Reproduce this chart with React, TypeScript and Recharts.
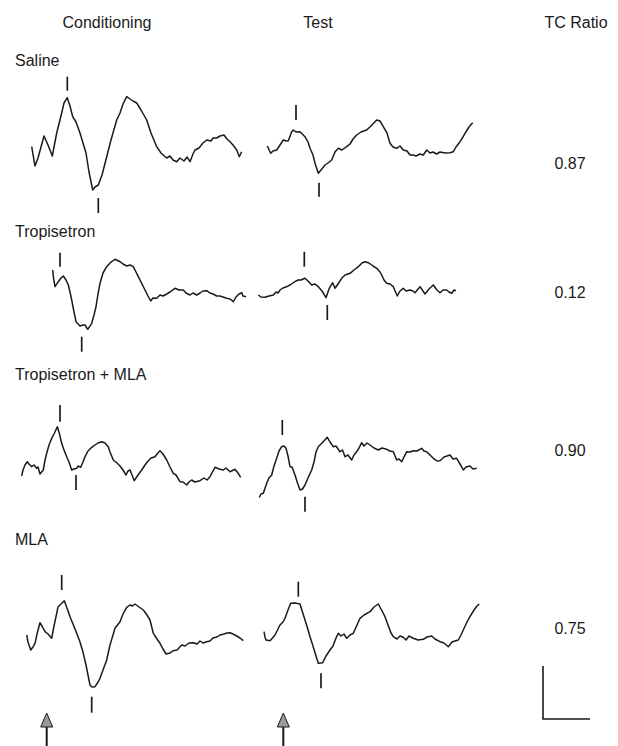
// Evoked potential traces: conditioning / test responses per drug condition
import React from 'react';
import { LineChart, Line, XAxis, YAxis, ReferenceLine, ReferenceDot } from 'recharts';

type Pt = [number, number]; // [time (ms from trace origin), amplitude (µV, up = positive)]
type Mark = [number, number, number]; // [time, from, to]

// ---- Saline ----
const SALINE_COND: Pt[] = [
  [16.7, -1.7], [20, -21], [23, -13], [29, 9], [33, 0], [37.3, -11], [41.7, 12], [46.7, 32], [49, 42],
  [52.3, 47.3], [55, 39], [57.7, 28.3], [61, 23], [65, 12], [71, -8], [74, -27], [77.7, -45], [80, -42],
  [83.3, -40], [87, -30], [91.7, -11.7], [96, 5], [101.7, 25], [105, 32], [108, 41], [111.7, 48.3],
  [115, 46], [118, 44], [121.7, 42], [126, 35], [131.7, 25], [136, 12], [141.7, -1.7], [146, -8],
  [151.7, -13], [155, -11], [158, -15], [161.7, -16.7], [165, -13], [169, -16], [172, -12], [175, -16.7],
  [178, -9], [180, -5], [184, -3], [188, 2], [191.7, 5], [196, 4], [198, 7], [201.7, 7], [205, 9],
  [209, 10], [212, 6], [215, 3.3], [218, 0], [221.7, -5], [224.3, -11.7], [226.7, -6.7],
];
const SALINE_TEST: Pt[] = [
  [17.3, -1], [20.7, -8.3], [23, -6], [26.7, -5], [30, 0], [33.3, 5], [36, 4], [38.3, 4.3], [41.7, 13.3],
  [43.3, 15], [46, 13], [50, 13.3], [55, 8.3], [58, 3], [60, -3.3], [63, -10], [65, -18.3], [68.3, -28.3],
  [71, -25], [75, -20], [78, -18], [81.7, -15], [85, -7], [88.3, -3.3], [92, -5], [96.7, -1.7], [100, 1],
  [103, 6], [106.7, 10], [111, 13], [116.7, 15], [121, 19], [126.7, 25], [130, 24], [133.3, 18.3],
  [137, 12], [140, 1.7], [143, -2], [146.7, -3.3], [150, -1], [153.3, -5], [157, -6], [160, -10],
  [163.3, -10], [166, -11], [170, -9], [173.3, -10], [176.7, -5], [180, -8], [183, -7], [186.7, -9],
  [190, -7], [195, -8], [200, -7.7], [203.3, -6.7], [206, -2], [210, 3.3], [213, 8], [215, 11.7],
  [219, 18], [222.7, 22.3],
];

// ---- Tropisetron ----
const TROP_COND: Pt[] = [
  [37.7, 30], [38.5, 22], [40, 13.3], [43.3, 18.3], [46, 22], [48.3, 24], [51, 20], [53.3, 15], [55, 8],
  [56.7, 0], [59, -12], [61, -21.7], [65, -26], [68, -25], [70, -25], [72.7, -29.3], [76.7, -23.3],
  [79, -15], [81, -6.7], [83, 6], [85, 16.7], [88, 27], [91.7, 33.3], [96, 38], [100, 40.7], [105, 38.3],
  [108, 36], [111.7, 34], [115, 35], [118.3, 33.3], [121, 28], [123.3, 23.3], [127, 16], [130, 10],
  [133, 4], [135.7, -1], [138, 2], [141.7, 1.7], [145, 5], [148, 4], [151.7, 6], [155, 8], [160, 11.7],
  [164, 10], [168.3, 10], [171, 7], [175, 5], [178, 7], [181.7, 5], [185, 7], [188, 9], [191.7, 9.3],
  [195, 7], [198, 6], [201.7, 4], [205, 4], [208, 3], [211.7, 1.7], [215, 1], [218.3, -1.7], [221, 3],
  [224, 6], [226.7, 7.3], [228, 4], [231, 3.3],
];
const TROP_TEST: Pt[] = [
  [8.3, 5], [11, 3], [15, 2.7], [19, 4], [23.3, 5], [26, 8], [28, 7], [30, 10], [33, 12], [36.7, 13.3],
  [40, 15], [43, 17], [45, 18.3], [48, 20], [51, 20], [55, 21.7], [58, 19], [61.7, 15], [65, 16],
  [68.3, 13.3], [72, 9], [76, 2.3], [79.3, 11.7], [82.7, 17.3], [85, 11.7], [88, 16], [91.7, 21.7],
  [95, 25], [100, 26.7], [104, 30], [108.3, 33.3], [112, 37], [115, 38.3], [119, 37], [123, 34],
  [126.7, 31.7], [130, 28], [131.7, 25], [134, 20], [136.7, 16.7], [140, 16], [143.3, 13.3], [147.3, 4],
  [150, 9], [153.3, 11.7], [156, 9], [160, 10], [163, 9], [165, 7.3], [170, 13.3], [175, 6], [179, 11],
  [183.3, 15], [187, 10], [190, 7.3], [193, 10], [196.7, 10], [199, 8], [201.7, 6.7], [204, 10], [206, 9.3],
];

// ---- Tropisetron + MLA ----
const TROP_MLA_COND: Pt[] = [
  [6.7, -16], [8, -10], [10, -5], [12.3, -1.7], [14, -4], [16.7, -6.7], [19, -5], [21.7, -8.3], [23, -7],
  [25, -14], [28.3, -10], [30, 0], [31.7, 6.7], [34, 15], [36.7, 21.7], [39, 26], [42.3, 33.3], [44.5, 26],
  [46.7, 16.7], [49, 10], [51.7, 3.3], [54, -2], [56.7, -10], [59, -9], [61.7, -8.3], [63, -6], [65.7, -7.3],
  [68, -2], [70, 3.3], [73, 9], [76.7, 12.7], [80, 15], [83, 17], [86.7, 18.3], [90, 17], [93.3, 13.3],
  [95, 8], [98.3, 0], [102, -3], [105, -6], [108, -10], [111, -15], [113, -11], [115, -10], [117, -15],
  [119.3, -20.7], [123, -15], [126.7, -10], [130, -5], [133.3, -0.7], [136, 2], [140, 3.3], [142, 6],
  [145, 9.3], [148, 6], [151.7, 0], [155, -7], [158.3, -13.3], [161, -15], [165, -21.7], [168, -22],
  [171.7, -25], [174, -22], [176.7, -20], [180, -22], [185, -20.7], [189, -18], [192, -20], [195, -16.7],
  [198, -11], [200, -7.3], [204, -9], [208.3, -10], [211, -8], [215, -11.7], [220, -9.3], [223, -13],
  [225.7, -17.3],
];
const TROP_MLA_TEST: Pt[] = [
  [9.3, -37.3], [11, -34], [13.3, -33.3], [16.7, -23.3], [19, -18], [21.7, -15], [24, -6], [26.7, 1.7],
  [29, 9], [31.7, 13.3], [34, 14], [36, 11.7], [38, 4], [40, -6.7], [42, -7], [45, -15], [47.5, -23],
  [50, -30], [52.5, -29], [55, -25], [58, -18], [61.7, -10], [64, -2], [66, 8], [68.3, 13.3], [72, 17],
  [77.3, 22.7], [80, 18], [83.3, 13.3], [86, 14], [90, 8.3], [92.5, 10], [95, 3.3], [98, 5], [101.7, 0],
  [104, 5], [106.7, 8.3], [109, 12], [111.7, 17.3], [114, 14], [117, 17], [120, 15], [124, 12],
  [128.3, 10], [132, 12], [136.7, 10.7], [140, 9], [143.3, 8.3], [146.7, 0], [149, 1], [151.7, -1.7],
  [154, 3], [156.7, 8.3], [160, 8], [163.3, 9.3], [167, 9], [171.7, 11.7], [174, 9], [176.7, 8.3],
  [180, 5], [183.3, 1.7], [187, -1], [190, -0.7], [194, 3], [197, 4], [200, 5], [203, 1], [206.7, 1.7],
  [210, -4], [213.3, -10], [216, -7], [220, -6], [223, -9], [226.7, -8.3],
];

// ---- MLA ----
const MLA_COND: Pt[] = [
  [11.7, 10], [13, 3], [15.7, -5], [18, -2], [20, 1.7], [22.5, 13], [25, 22.3], [27.5, 18], [30, 13.3],
  [33, 11], [36.7, 6.7], [39, 19], [41.7, 31.7], [43, 38], [45, 40], [47, 42], [49.3, 44.3], [52, 37],
  [55, 28.3], [58, 21], [61.7, 11.7], [65, 3], [68.3, -8.3], [71, -20], [75, -40], [77, -42], [80, -41.7],
  [82.5, -38], [85, -33.3], [88, -25], [91.7, -15], [95, 0], [98, 10], [100, 16.7], [105, 23.3], [108, 31],
  [111.7, 37.7], [115, 40], [117.5, 39], [120, 41], [124, 38], [128.3, 35], [132, 30], [135, 25],
  [138.3, 11.7], [142, 6], [145, 1.7], [148, -4], [151, -9], [155, -8], [158.3, -5.7], [162, -5],
  [166.7, 0], [170, -1], [174, 2], [178.3, 2.3], [182, 1], [185, 4], [188, 2], [191.7, 3.3], [195, 4],
  [198, 7], [202, 8], [205, 10], [209, 11], [212, 12], [215, 12.3], [218, 11], [221.7, 9], [225, 7],
  [228.3, 4.3],
];
const MLA_TEST: Pt[] = [
  [14, 13.3], [15, 8], [16, 5], [20, 4.3], [22.5, 7], [25, 10], [28, 16], [30, 20], [33, 23], [35, 26.7],
  [38, 35], [40.7, 41.7], [45, 42], [50, 41], [52.5, 33], [55, 25], [57.5, 17], [60, 8.3], [63, -1],
  [66, -11], [68.3, -18.3], [72.7, -17.7], [76, -11], [80, -5], [83, -1], [86, 7], [88.3, 11.7], [91, 9],
  [94, 11], [96.7, 6.7], [100, 10], [103.3, 11.7], [107, 20], [110, 26.7], [114, 30], [120, 33.3],
  [124, 38], [128.3, 41], [131, 36], [135, 28.3], [138, 20], [141, 12], [143.3, 8.3], [147, 6], [150, 9],
  [153.3, 7.7], [156, 5], [159, 9], [163.3, 6.7], [168, 5], [173.3, 5.7], [177, 8], [181.7, 9], [185, 6],
  [190, 3.3], [194, 2], [198.3, -1.7], [202, 3], [205, 4], [208.3, 5], [211, 10], [213.3, 15], [217, 23],
  [220, 28.3], [224, 35], [227, 39], [229.3, 41],
];

// peak / trough latency markers [time, from, to]
const SALINE_COND_MARKS: Mark[] = [[52.3, 54.3, 68.3], [83.3, -53, -68]];
const SALINE_TEST_MARKS: Mark[] = [[46, 25, 40], [69, -37.7, -51.7]];
const TROP_COND_MARKS: Mark[] = [[45, 33.3, 47.3], [66.7, -36.7, -51.7]];
const TROP_TEST_MARKS: Mark[] = [[54.3, 33.3, 48.3], [77.3, -5, -20]];
const TROP_MLA_COND_MARKS: Mark[] = [[45, 38.3, 55], [61, -15, -30]];
const TROP_MLA_TEST_MARKS: Mark[] = [[32.3, 25, 40], [55, -36.7, -51.7]];
const MLA_COND_MARKS: Mark[] = [[46.7, 55, 70], [76.7, -51.7, -67.7]];
const MLA_TEST_MARKS: Mark[] = [[48.3, 48.3, 63.3], [71, -28.3, -43.3]];

// stimulus arrows (time of stimulus in each column)
const STIM_COND = 31.7;
const STIM_TEST = 33.3;

const ROW_LABELS = ['Saline', 'Tropisetron', 'Tropisetron + MLA', 'MLA'];
const TC_RATIOS = ['0.87', '0.12', '0.90', '0.75'];
const COLUMN_TITLES = ['Conditioning', 'Test', 'TC Ratio'];

// scale bar (ms, µV)
const SCALE_MS = 47;
const SCALE_UV = 53;

const INK = '#1a1a1a';
const FONT = '"Liberation Sans", Arial, Helvetica, sans-serif';
const TRACE_W = 240;

interface Row {
  label: string;
  labelBase: number;
  ratio: string;
  ratioBase: number;
  top: number;
  height: number;
  center: number;
  cond: Pt[];
  test: Pt[];
  condMarks: Mark[];
  testMarks: Mark[];
}

const ROWS: Row[] = [
  { label: ROW_LABELS[0], labelBase: 66, ratio: TC_RATIOS[0], ratioBase: 169, top: 70, height: 150, center: 145,
    cond: SALINE_COND, test: SALINE_TEST, condMarks: SALINE_COND_MARKS, testMarks: SALINE_TEST_MARKS },
  { label: ROW_LABELS[1], labelBase: 237, ratio: TC_RATIOS[1], ratioBase: 298, top: 240, height: 120, center: 300,
    cond: TROP_COND, test: TROP_TEST, condMarks: TROP_COND_MARKS, testMarks: TROP_TEST_MARKS },
  { label: ROW_LABELS[2], labelBase: 380, ratio: TC_RATIOS[2], ratioBase: 456, top: 395, height: 130, center: 460,
    cond: TROP_MLA_COND, test: TROP_MLA_TEST, condMarks: TROP_MLA_COND_MARKS, testMarks: TROP_MLA_TEST_MARKS },
  { label: ROW_LABELS[3], labelBase: 545, ratio: TC_RATIOS[3], ratioBase: 634, top: 565, height: 181, center: 645,
    cond: MLA_COND, test: MLA_TEST, condMarks: MLA_COND_MARKS, testMarks: MLA_TEST_MARKS },
];

// arrowhead drawn at the stimulus point (tip)
const ArrowHead = (props: any) => {
  const { cx, cy } = props;
  if (cx == null || cy == null) return null;
  return (
    <polygon
      points={`${cx},${cy} ${cx - 6},${cy + 14} ${cx + 6},${cy + 14}`}
      fill="#9a9a9a"
      stroke={INK}
      strokeWidth={1}
    />
  );
};

const Trace: React.FC<{
  data: Pt[]; marks: Mark[]; left: number; top: number; height: number; center: number; stim?: number;
}> = ({ data, marks, left, top, height, center, stim }) => {
  const rows = data.map(([t, v]) => ({ t, v }));
  const lo = center - (top + height);
  const hi = center - top;
  return (
    <div style={{ position: 'absolute', left, top }}>
      <LineChart width={TRACE_W} height={height} data={rows} margin={{ top: 0, right: 0, bottom: 0, left: 0 }}>
        <XAxis type="number" dataKey="t" domain={[0, TRACE_W]} hide allowDataOverflow />
        <YAxis type="number" domain={[lo, hi]} hide allowDataOverflow />
        <Line type="linear" dataKey="v" stroke={INK} strokeWidth={1.5} strokeLinejoin="round" dot={false} isAnimationActive={false} />
        {marks.map(([t, a, b], i) => (
          <ReferenceLine key={i} segment={[{ x: t, y: a }, { x: t, y: b }]} stroke={INK} strokeWidth={1.7} />
        ))}
        {stim != null && (
          <ReferenceLine segment={[{ x: stim, y: -81 }, { x: stim, y: lo }]} stroke={INK} strokeWidth={2} />
        )}
        {stim != null && <ReferenceDot x={stim} y={-68} shape={ArrowHead} />}
      </LineChart>
    </div>
  );
};

const Label: React.FC<{ text: string; base: number; left?: number; center?: number }> = ({ text, base, left, center }) => {
  const style: React.CSSProperties = {
    position: 'absolute', top: base - 13.5, fontFamily: FONT, fontSize: 16, lineHeight: '16px',
    color: INK, whiteSpace: 'nowrap',
  };
  if (center != null) {
    style.left = center - 60;
    style.width = 120;
    style.textAlign = 'center';
  } else {
    style.left = left;
  }
  return <div style={style}>{text}</div>;
};

export default function App() {
  const bar = [
    { t: 53, v: -74 + SCALE_UV },
    { t: 53, v: -74 },
    { t: 53 + SCALE_MS, v: -74 },
  ];
  return (
    <div style={{ position: 'absolute', left: 0, top: 0, width: 618, height: 746, background: '#fff', overflow: 'hidden' }}>
      <Label text={COLUMN_TITLES[0]} base={28} center={107} />
      <Label text={COLUMN_TITLES[1]} base={28} center={318} />
      <Label text={COLUMN_TITLES[2]} base={28} center={576} />
      {ROWS.map((r, i) => (
        <React.Fragment key={r.label}>
          <Label text={r.label} base={r.labelBase} left={15} />
          <Label text={r.ratio} base={r.ratioBase} center={570} />
          <Trace data={r.cond} marks={r.condMarks} left={15} top={r.top} height={r.height} center={r.center}
            stim={i === 3 ? STIM_COND : undefined} />
          <Trace data={r.test} marks={r.testMarks} left={250} top={r.top} height={r.height} center={r.center}
            stim={i === 3 ? STIM_TEST : undefined} />
        </React.Fragment>
      ))}
      {/* calibration bar */}
      <div style={{ position: 'absolute', left: 490, top: 560 }}>
        <LineChart width={128} height={186} data={bar} margin={{ top: 0, right: 0, bottom: 0, left: 0 }}>
          <XAxis type="number" dataKey="t" domain={[0, 128]} hide allowDataOverflow />
          <YAxis type="number" domain={[-101, 85]} hide allowDataOverflow />
          <Line type="linear" dataKey="v" stroke={INK} strokeWidth={1.6} dot={false} isAnimationActive={false} />
        </LineChart>
      </div>
    </div>
  );
}
